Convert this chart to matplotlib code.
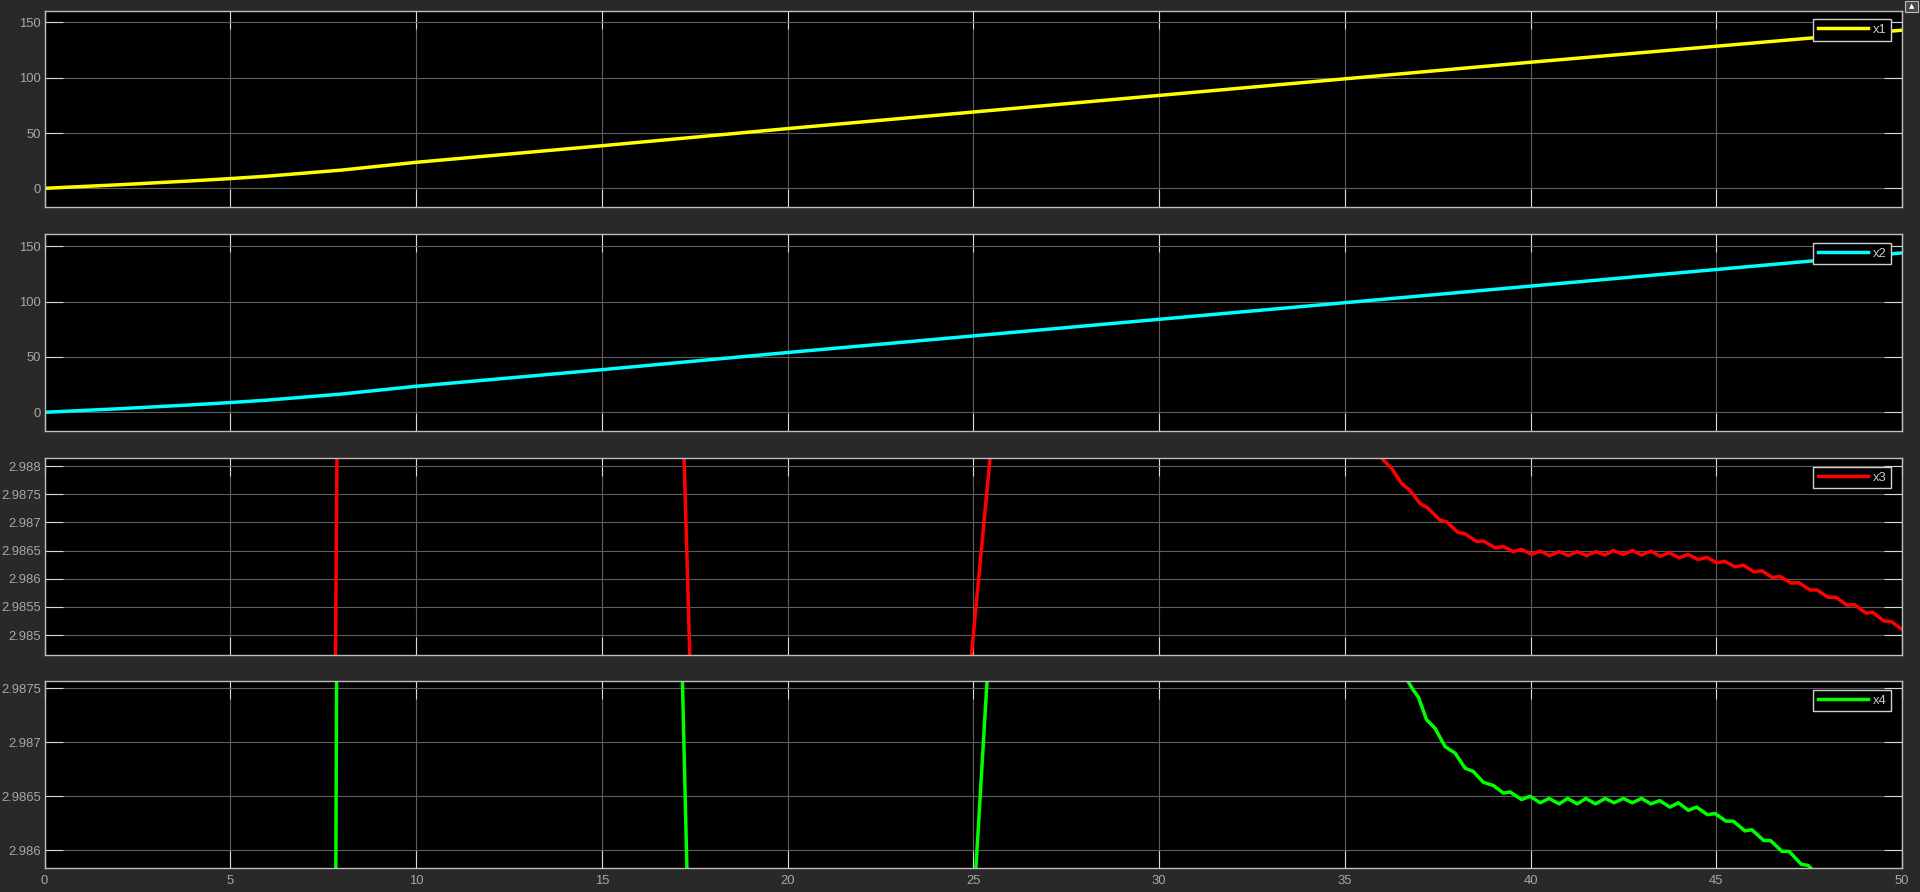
import matplotlib
matplotlib.use("Agg")
import matplotlib.pyplot as plt
from matplotlib.ticker import FuncFormatter
from matplotlib.patches import Rectangle

plt.rcParams['font.family'] = ['Liberation Sans', 'DejaVu Sans']

# ---------------- data ----------------
t1 = [0, 2, 4, 5, 6, 8, 10, 15, 20, 25, 30, 35, 40, 45, 50]
x1 = [0.0, 3.2, 6.8, 8.8, 11.0, 16.5, 23.5, 38.5, 54.0, 69.0, 84.0, 99.0, 114.0, 128.5, 143.0]

t2 = [0, 2, 4, 5, 6, 8, 10, 15, 20, 25, 30, 35, 40, 45, 50]
x2 = [0.0, 3.2, 6.8, 8.8, 11.0, 16.5, 23.5, 38.5, 54.0, 69.0, 84.0, 99.0, 114.0, 129.0, 144.0]

t3 = [0, 2, 4, 6, 7.0, 7.82, 7.88, 10, 12.5, 15, 17.15, 17.40, 20, 22.5, 24.85, 25.55,
      28, 31, 34, 35.80, 35.99, 36.26, 36.53, 36.75, 37.02, 37.24, 37.56, 37.74, 38.05,
      38.23, 38.55, 38.73, 39.04, 39.27, 39.54, 39.76, 40.03, 40.26, 40.51, 40.77, 41.02,
      41.26, 41.51, 41.75, 42.00, 42.23, 42.50, 42.74, 42.99, 43.24, 43.49, 43.74, 44.00,
      44.24, 44.51, 44.75, 45.02, 45.22, 45.51, 45.73, 46.02, 46.23, 46.51, 46.72, 47.02,
      47.22, 47.52, 47.71, 48.01, 48.22, 48.52, 48.72, 49.03, 49.22, 49.51, 49.71, 50.0]
x3 = [0.0, 0.9, 1.8, 2.6, 2.90, 2.98377, 2.98902, 3.02, 3.03, 3.02, 2.98964, 2.98389, 2.96,
      2.965, 2.98395, 2.98883, 3.0, 3.003, 2.996, 2.9884, 2.98814, 2.98796, 2.98769, 2.98757,
      2.98734, 2.98725, 2.98704, 2.98701, 2.98682, 2.98680, 2.98666, 2.98667, 2.98655,
      2.98657, 2.98648, 2.98652, 2.98643, 2.98649, 2.98641, 2.98648, 2.98641, 2.98648,
      2.98641, 2.98648, 2.98642, 2.98650, 2.98643, 2.98650, 2.98642, 2.98649, 2.98640,
      2.98646, 2.98637, 2.98643, 2.98634, 2.98638, 2.98628, 2.98631, 2.98621, 2.98624,
      2.98612, 2.98614, 2.98602, 2.98604, 2.98592, 2.98593, 2.98580, 2.98580, 2.98567,
      2.98567, 2.98553, 2.98554, 2.98539, 2.98540, 2.98525, 2.98524, 2.98510]

t4 = [0, 2, 4, 6, 7.0, 7.83, 7.87, 10, 12.5, 15, 17.10, 17.35, 20, 22.5, 25.0, 25.45,
      28, 31, 34, 36.60, 36.71, 36.85, 36.98, 37.20, 37.43, 37.70, 37.97, 38.24, 38.46,
      38.73, 39.00, 39.27, 39.45, 39.76, 39.99, 40.26, 40.50, 40.77, 41.00, 41.26, 41.49,
      41.75, 42.01, 42.25, 42.50, 42.74, 42.99, 43.24, 43.48, 43.75, 43.98, 44.25, 44.47,
      44.76, 44.97, 45.26, 45.46, 45.77, 45.96, 46.28, 46.46, 46.77, 46.96, 47.29, 47.47,
      47.56, 47.80, 48.50, 50.0]
x4 = [0.0, 0.9, 1.8, 2.6, 2.90, 2.98497, 2.98843, 3.02, 3.03, 3.02, 2.98857, 2.98497, 2.96,
      2.965, 2.98543, 2.98803, 3.0, 3.003, 2.996, 2.98790, 2.98756, 2.98748, 2.98742,
      2.98721, 2.98713, 2.98696, 2.98690, 2.98676, 2.98673, 2.98663, 2.98660, 2.98653,
      2.98654, 2.98647, 2.98650, 2.98644, 2.98648, 2.98643, 2.98648, 2.98643, 2.98648,
      2.98643, 2.98648, 2.98644, 2.98648, 2.98644, 2.98648, 2.98643, 2.98646, 2.98640,
      2.98644, 2.98637, 2.98640, 2.98633, 2.98634, 2.98627, 2.98627, 2.98618, 2.98619,
      2.98609, 2.98609, 2.98599, 2.98599, 2.98587, 2.98586, 2.98583, 2.98575, 2.98555,
      2.98505]

labels = ['x1', 'x2', 'x3', 'x4']
colors = ['#ffff00', '#00ffff', '#ff0000', '#00ff00']
xticks = [0, 5, 10, 15, 20, 25, 30, 35, 40, 45, 50]
yticks12 = [0, 50, 100, 150]
yticks3 = [2.985, 2.9855, 2.986, 2.9865, 2.987, 2.9875, 2.988]
yticks4 = [2.986, 2.9865, 2.987, 2.9875]

# ---------------- style / layout ----------------
W, H = 1920, 892
fig = plt.figure(figsize=(W / 100, H / 100), dpi=100, facecolor='#292929')

left = 44.6 / W
width = (1902 - 44.6) / W
boxes = [(10.5, 207.0), (234.3, 431.0), (458.3, 655.3), (681.3, 868.0)]
ylims = [(-16.9, 160.8), (-16.9, 160.8), (2.98464, 2.988137), (2.985836, 2.987565)]
ytick_sets = [yticks12, yticks12, yticks3, yticks4]
series = [(t1, x1), (t2, x2), (t3, x3), (t4, x4)]

fmt = FuncFormatter(lambda v, p: f'{v:g}')
tick_col = '#a8a8a8'
fs = 9.4

for i, ((top, bot), (tt, xx)) in enumerate(zip(boxes, series)):
    ax = fig.add_axes([left, 1 - bot / H, width, (bot - top) / H])
    ax.set_facecolor('black')
    ax.plot(tt, xx, color=colors[i], lw=2.5, label=labels[i], zorder=3)
    ax.set_xlim(0, 50)
    ax.set_ylim(*ylims[i])
    ax.set_xticks(xticks)
    ax.set_yticks(ytick_sets[i])
    ax.yaxis.set_major_formatter(fmt)
    ax.grid(True, color='#5e5e5e', lw=0.8, zorder=1)
    ax.set_axisbelow(True)
    for sp in ax.spines.values():
        sp.set_color('#bdbdbd')
        sp.set_linewidth(1.0)
        sp.set_zorder(4)
    ax.tick_params(axis='both', which='both', direction='in', length=13.2, width=0.8,
                   color='#d8d8d8', labelcolor=tick_col, labelsize=fs,
                   top=True, right=True)
    ax.tick_params(axis='y', pad=2.8)
    ax.tick_params(axis='x', pad=5)
    if i < 3:
        ax.tick_params(axis='x', labelbottom=False)
    leg = ax.legend(loc='upper right', bbox_to_anchor=(1 - 11.3 / 1857.4, 1 - 8.8 / (bot - top)),
                    borderaxespad=0, fontsize=fs, handlelength=3.9, handletextpad=0.3,
                    borderpad=0.35, fancybox=False, framealpha=1)
    leg.get_frame().set_facecolor('black')
    leg.get_frame().set_edgecolor('#d0d0d0')
    leg.get_frame().set_linewidth(1.0)
    for txt in leg.get_texts():
        txt.set_color('#c8c8c8')
    leg.set_zorder(6)

# small button in the top-right corner
fig.patches.append(Rectangle((1905 / W, 1 - 12 / H), 13 / W, 11 / H, transform=fig.transFigure,
                             facecolor='#4a4a4a', edgecolor='#bdbdbd', lw=0.8))
fig.text(1911.5 / W, 1 - 6.5 / H, '▲', color='white', fontsize=5, ha='center', va='center',
         family='DejaVu Sans')

fig.savefig('out.png', dpi=100, facecolor=fig.get_facecolor())
